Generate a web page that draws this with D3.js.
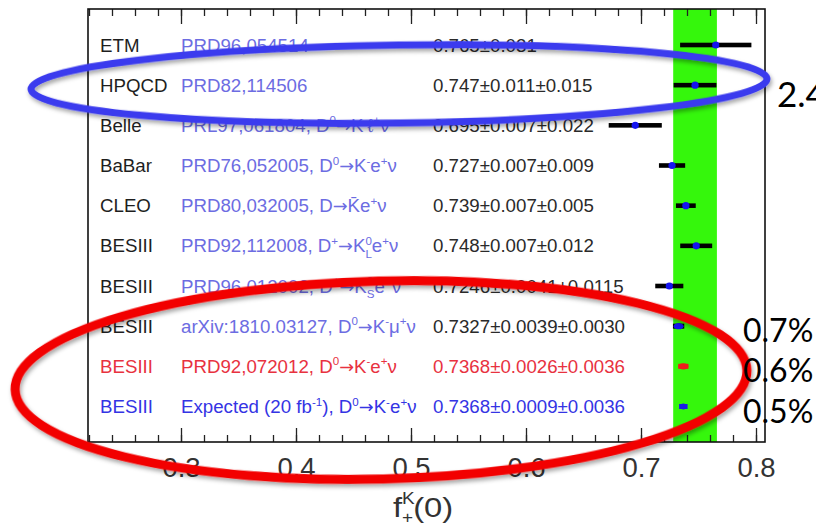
<!DOCTYPE html>
<html>
<head>
<meta charset="utf-8">
<script src="https://cdn.jsdelivr.net/npm/d3@7"></script>
<style>
  html, body { margin: 0; padding: 0; background: #fff; }
  svg { display: block; }
</style>
</head>
<body>
<svg id="chart" width="816" height="528"></svg>
<script>
// ---------------- data ----------------
const experiments = ["ETM", "HPQCD", "Belle", "BaBar", "CLEO", "BESIII", "BESIII", "BESIII", "BESIII", "BESIII"];
const references = [
  "PRD96,054514",
  "PRD82,114506",
  "PRL97,061804, D^{0}→K^{-}ℓ^{+}ν",
  "PRD76,052005, D^{0}→K^{-}e^{+}ν",
  "PRD80,032005, D→K\u0304e^{+}ν",
  "PRD92,112008, D^{+}→K^{0}_{L}e^{+}ν",
  "PRD96,012002, D^{+}→K^{0}_{S}e^{+}ν",
  "arXiv:1810.03127, D^{0}→K^{-}μ^{+}ν",
  "PRD92,072012, D^{0}→K^{-}e^{+}ν",
  "Expected (20 fb^{-1}), D^{0}→K^{-}e^{+}ν"
];
const valueLabels = [
  "0.765±0.031",
  "0.747±0.011±0.015",
  "0.695±0.007±0.022",
  "0.727±0.007±0.009",
  "0.739±0.007±0.005",
  "0.748±0.007±0.012",
  "0.7246±0.0041±0.0115",
  "0.7327±0.0039±0.0030",
  "0.7368±0.0026±0.0036",
  "0.7368±0.0009±0.0036"
];
const centers = [0.765, 0.747, 0.695, 0.727, 0.739, 0.748, 0.7246, 0.7327, 0.7368, 0.7368];
const statErr = [0.031, 0.011, 0.007, 0.007, 0.007, 0.007, 0.0041, 0.0039, 0.0026, 0.0009];
const systErr = [0, 0.015, 0.022, 0.009, 0.005, 0.012, 0.0115, 0.0030, 0.0036, 0.0036];
const rowKinds = ["std", "std", "std", "std", "std", "std", "std", "std", "red", "blue"];
const bandRange = [0.728, 0.766];            // HPQCD total uncertainty band
const majorTicks = [0.3, 0.4, 0.5, 0.6, 0.7, 0.8];
const minorTicks = d3.range(22, 81, 2).map(v => v / 100);
const precisionNotes = [
  { row: 1, text: "2.4" },
  { row: 7, text: "0.7%" },
  { row: 8, text: "0.6%" },
  { row: 9, text: "0.5%" }
];

// ---------------- layout ----------------
const svg = d3.select("#chart");
const FONT = "'Liberation Sans', Arial, Helvetica, sans-serif";
const x = d3.scaleLinear().domain([0.3, 0.8]).range([181, 756]);
const frame = { left: 88, right: 765, top: 9, bottom: 442 };
const y = d3.scalePoint().domain(d3.range(experiments.length)).range([45, 406.5]);

const colors = {
  std:  { exp: "#1e1e1e", ref: "#6c6ce2", val: "#2a2a2a", bar: "#000000", mark: "#1414f0" },
  red:  { exp: "#e8323f", ref: "#e8323f", val: "#e8323f", bar: "#ee1c1c", mark: "#ee1c1c" },
  blue: { exp: "#3434e4", ref: "#3434e4", val: "#3434e4", bar: "#1a1ae8", mark: "#1a1ae8" }
};

// filter for the annotation shadows
const defs = svg.append("defs");
const f = defs.append("filter").attr("id", "shadow").attr("x", "-10%").attr("y", "-30%").attr("width", "120%").attr("height", "160%");
f.append("feDropShadow").attr("dx", 1.5).attr("dy", 3).attr("stdDeviation", 2.2)
  .attr("flood-color", "#000").attr("flood-opacity", 0.35);

// green band
svg.append("rect")
  .attr("x", x(bandRange[0])).attr("y", frame.top)
  .attr("width", x(bandRange[1]) - x(bandRange[0]))
  .attr("height", frame.bottom - frame.top)
  .attr("fill", "#35f70c");

// axes (ticks pointing inward, ROOT style)
const gAx = svg.append("g").attr("font-family", FONT);
function tickAxis(axisFn, ypos, vals, len, labels) {
  const ax = axisFn(x).tickValues(vals).tickSizeInner(-len).tickSizeOuter(0);
  if (labels) ax.tickPadding(15).tickFormat(d3.format(".1f"));
  else ax.tickFormat("");
  const g = gAx.append("g").attr("transform", `translate(0,${ypos})`).call(ax);
  g.select(".domain").remove();
  g.selectAll(".tick line").attr("stroke", "#222").attr("stroke-width", 1.3);
  g.selectAll(".tick text").attr("fill", "#333").attr("font-size", 27.5).attr("font-family", FONT);
  return g;
}
tickAxis(d3.axisBottom, frame.bottom, minorTicks, 7, false);
tickAxis(d3.axisBottom, frame.bottom, majorTicks, 14, true);
tickAxis(d3.axisTop, frame.top, minorTicks, 7, false);
tickAxis(d3.axisTop, frame.top, majorTicks, 15, false);

// frame
svg.append("rect")
  .attr("x", frame.left).attr("y", frame.top)
  .attr("width", frame.right - frame.left).attr("height", frame.bottom - frame.top)
  .attr("fill", "none").attr("stroke", "#111").attr("stroke-width", 1.6);

// rich text helper: ^{..} superscript, _{..} subscript, ^{..}_{..} stacked
function rich(textSel, str, baseSize, opts) {
  opts = opts || {};
  const small = baseSize * (opts.small || 0.62);
  const re = /\^\{([^}]*)\}(?:_\{([^}]*)\})?|_\{([^}]*)\}|→|[^^_→]+/g;
  let m, cur = 0;
  const up = -baseSize * (opts.up || 0.4), down = baseSize * (opts.down || 0.3);
  function span(txt, size, off, dx) {
    const t = textSel.append("tspan").text(txt).attr("font-size", size).attr("dy", off - cur);
    if (dx) t.attr("dx", dx);
    cur = off;
    return t;
  }
  while ((m = re.exec(str)) !== null) {
    if (m[1] !== undefined) {
      const s = span(m[1], small, up);
      if (m[2] !== undefined) {
        const w = s.node().getComputedTextLength();
        const b = span(m[2], small, down, -w);
        const w2 = b.node().getComputedTextLength();
        if (w > w2) textSel.append("tspan").attr("dx", w - w2).text("");
      }
    } else if (m[3] !== undefined) {
      span(m[3], small, down);
    } else if (m[0] === "→") {
      span("→", baseSize * 0.95, 0).attr("font-family", "'DejaVu Sans', sans-serif");
    } else {
      span(m[0], baseSize, 0);
    }
  }
}

// rows
const FS = 18.7;
const rows = svg.append("g").attr("font-family", FONT);
experiments.forEach((e, i) => {
  const c = colors[rowKinds[i]];
  const yy = y(i) + 6.6;
  rows.append("text").attr("x", 100).attr("y", yy).attr("font-size", FS).attr("fill", c.exp).text(e);
  const t = rows.append("text").attr("x", 181).attr("y", yy).attr("font-size", FS).attr("fill", c.ref);
  rich(t, references[i], FS);
  rows.append("text").attr("x", 433).attr("y", yy).attr("font-size", FS).attr("fill", c.val).text(valueLabels[i]);
});

// error bars and markers
const marks = svg.append("g");
centers.forEach((v, i) => {
  const c = colors[rowKinds[i]];
  const tot = Math.sqrt(statErr[i] ** 2 + systErr[i] ** 2);
  const h = i >= 7 ? 5 : 4.6;
  marks.append("rect")
    .attr("x", x(v - tot)).attr("y", y(i) - h / 2)
    .attr("width", x(v + tot) - x(v - tot)).attr("height", h)
    .attr("fill", c.bar);
  if (i === 7 || i === 8) {
    marks.append("ellipse").attr("cx", x(v)).attr("cy", y(i)).attr("rx", 5).attr("ry", 3.2).attr("fill", c.mark);
  } else {
    marks.append("circle").attr("cx", x(v)).attr("cy", y(i)).attr("r", i === 9 ? 3 : 3.6).attr("fill", c.mark);
  }
});

// axis title f_+^K(0)
const title = svg.append("g").attr("transform", "translate(393,517) scale(1.17,1)")
  .append("text").attr("x", 0).attr("y", 0).attr("font-family", FONT).attr("fill", "#333");
rich(title, "f^{K}_{+}(0)", 28, { small: 0.58, up: 0.45, down: 0.2 });

// annotations: ellipses + precision numbers
svg.append("ellipse")
  .attr("cx", 399).attr("cy", 84).attr("rx", 368).attr("ry", 39)
  .attr("transform", "rotate(-0.8 399 84)")
  .attr("fill", "none").attr("stroke", "#3a3aee").attr("stroke-width", 7)
  .attr("filter", "url(#shadow)");
svg.append("ellipse")
  .attr("cx", 381).attr("cy", 380).attr("rx", 366).attr("ry", 99)
  .attr("transform", "rotate(-1.5 381 380)")
  .attr("fill", "none").attr("stroke", "#f20000").attr("stroke-width", 9)
  .attr("filter", "url(#shadow)");

const notes = svg.append("g").attr("font-family", "Lato, 'Open Sans', sans-serif").attr("fill", "#000");
precisionNotes.forEach(n => {
  notes.append("text")
    .attr("x", n.row === 1 ? 777 : 743)
    .attr("y", y(n.row) + (n.row === 1 ? 11 : 5) + 11)
    .attr("font-size", n.row === 1 ? 35 : 32)
    .text(n.text);
});
</script>
</body>
</html>
